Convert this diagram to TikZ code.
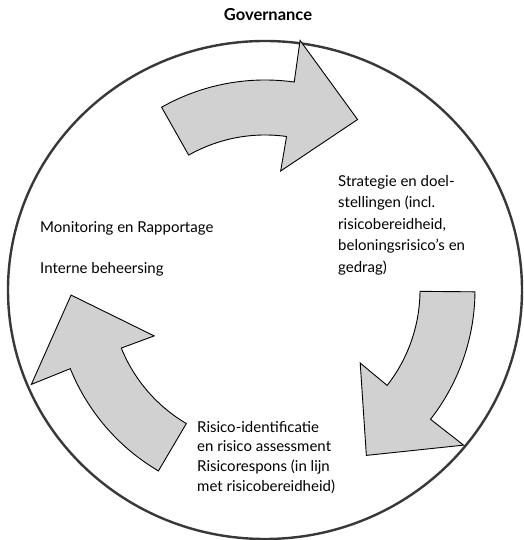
\documentclass[tikz,border=0pt]{standalone}
\usepackage{fontspec}
\setmainfont{Lato}
\usepackage{tikz}
\usetikzlibrary{positioning}
\definecolor{arrowgray}{gray}{0.82}
\definecolor{ringgray}{gray}{0.22}
\tikzstyle{ring}=[draw=ringgray,line width=2.4pt]
\tikzstyle{cyclearrow}=[draw=black,line width=0.9pt,fill=arrowgray,line join=miter]
\tikzstyle{phase}=[anchor=north west,align=left,inner sep=0pt,font=\fontsize{15}{21.5}\selectfont]
\tikzstyle{every node}=[font=\fontsize{15}{21.5}\selectfont]

\begin{document}
\begin{tikzpicture}[x=1pt,y=1pt]
    \useasboundingbox (0,0) rectangle (523,540);
    \fill[white] (0,0) rectangle (523,540);
    \node[font=\bfseries\fontsize{16.5}{18}\selectfont] (gov) at (268,525) {Governance};
    \draw[ring] (265,250) ellipse[x radius=257, y radius=249];
    % three curved arrows, 120 degrees apart
    \begin{scope}[shift={(265,250)}]
    \foreach \r in {0,120,240} {
        \path[cyclearrow,rotate=\r] (119.5:210) arc[start angle=119.5, end angle=82, radius=210]
            -- (82:252) -- (61.5:194) -- (82.5:120) -- (82:155)
            arc[start angle=82, end angle=119.5, radius=155] -- cycle;
    }
    \end{scope}
    \node[phase] (strat) at (338,365) {Strategie en doel-\\stellingen (incl.\\risicobereidheid,\\beloningsrisico's en\\gedrag)};
    \node[phase,font=\fontsize{15}{19.7}\selectfont] (risk) at (197,119) {Risico-identificatie\\en risico assessment\\Risicorespons (in lijn\\met risicobereidheid)};
    \node[phase] (monitor) at (40,319) {Monitoring en Rapportage};
    \node[phase,below=27pt of monitor.south west,anchor=north west] (control) {Interne beheersing};
\end{tikzpicture}
\end{document}
